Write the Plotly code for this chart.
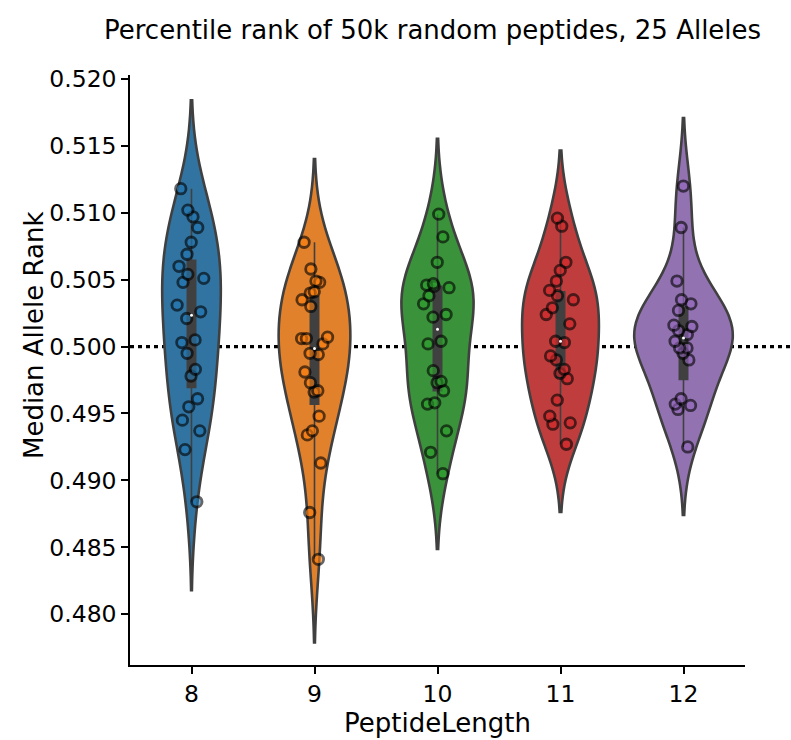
import numpy as np
import plotly.graph_objects as go

# Median allele percentile rank per allele for each peptide length
lengths = ["8", "9", "10", "11", "12"]

rank_len8 = [0.5118, 0.5102, 0.5097, 0.5089, 0.5078, 0.5069, 0.5060, 0.5054, 0.5051,
             0.5048, 0.5031, 0.5026, 0.5021, 0.5005, 0.5003, 0.4995, 0.4983, 0.4978,
             0.4961, 0.4955, 0.4945, 0.4937, 0.4923, 0.4884]
rank_len9 = [0.5078, 0.5058, 0.5049, 0.5048, 0.5041, 0.5040, 0.5035, 0.5030, 0.5007,
             0.5006, 0.5006, 0.5002, 0.4995, 0.4994, 0.4981, 0.4973, 0.4967, 0.4966,
             0.4948, 0.4937, 0.4934, 0.4913, 0.4876, 0.4841]
rank_len10 = [0.5099, 0.5082, 0.5063, 0.5047, 0.5046, 0.5045, 0.5044, 0.5038, 0.5032,
              0.5024, 0.5022, 0.5004, 0.5002, 0.4982, 0.4974, 0.4973, 0.4967, 0.4958,
              0.4957, 0.4937, 0.4921, 0.4905]
rank_len11 = [0.5096, 0.5090, 0.5063, 0.5057, 0.5049, 0.5042, 0.5038, 0.5035, 0.5029,
              0.5024, 0.5017, 0.5004, 0.5003, 0.4993, 0.4990, 0.4983, 0.4980, 0.4976,
              0.4960, 0.4948, 0.4943, 0.4942, 0.4927]
rank_len12 = [0.5120, 0.5089, 0.5049, 0.5035, 0.5032, 0.5027, 0.5016, 0.5015, 0.5012,
              0.5009, 0.5004, 0.4999, 0.4999, 0.4995, 0.4990, 0.4961, 0.4957, 0.4956,
              0.4953, 0.4925]

ranks = [rank_len8, rank_len9, rank_len10, rank_len11, rank_len12]

y_ticks = [0.480, 0.485, 0.490, 0.495, 0.500, 0.505, 0.510, 0.515, 0.520]
expected_rank = 0.5

violin_fill = ["#3274a1", "#e1812c", "#3a923a", "#c03d3e", "#9372b2"]
point_fill = ["#1f77b4", "#ff7f0e", "#2ca02c", "#d62728", "#9467bd"]
edge_gray = "#404040"
font_family = "DejaVu Sans, sans-serif"

fig = go.Figure()

for name, vals, fcol, pcol in zip(lengths, ranks, violin_fill, point_fill):
    arr = np.asarray(vals)
    # Scott's rule bandwidth, the usual default for the density estimate
    bw = arr.std(ddof=1) * len(arr) ** (-0.2)
    fig.add_trace(go.Violin(
        x=[name] * len(arr),
        y=arr,
        name=name,
        bandwidth=bw,
        spanmode="soft",
        # one shared density scale for all violins (equal areas)
        scalemode="width",
        scalegroup="lengths",
        fillcolor=fcol,
        opacity=1,
        line=dict(color=edge_gray, width=2.6),
        box=dict(visible=True, width=0.085, fillcolor=edge_gray,
                 line=dict(color=edge_gray, width=1.6)),
        meanline=dict(visible=False),
        points="all",
        pointpos=0,
        jitter=0.3,
        marker=dict(color=pcol, size=10.5, opacity=0.6,
                    line=dict(color="black", width=2.8)),
        hoverinfo="y",
        showlegend=False,
    ))

# white dot at each median, as drawn by the inner box
medians = [float(np.median(v)) for v in ranks]
fig.add_trace(go.Scatter(
    x=lengths, y=medians, mode="markers",
    marker=dict(color="white", size=3),
    hoverinfo="skip", showlegend=False,
))

# reference line at the expected median rank
fig.add_shape(type="line", xref="paper", yref="y",
              x0=0, x1=1.075, y0=expected_rank, y1=expected_rank,
              line=dict(color="black", width=3.2, dash="4px,4px"),
              layer="below")

# y-axis label
fig.add_annotation(text="Median Allele Rank", textangle=-90,
                   xref="paper", yref="paper", x=-0.157, y=0.56,
                   xanchor="center", yanchor="middle", showarrow=False,
                   font=dict(size=26, family=font_family, color="black"))

fig.update_layout(
    width=791, height=740,
    margin=dict(l=130, r=46, t=75, b=70),
    paper_bgcolor="white", plot_bgcolor="white",
    violinmode="overlay", violingap=0.2, violingroupgap=0,
    font=dict(family=font_family, color="black"),
    title=dict(text="Percentile rank of 50k random peptides, 25 Alleles",
               x=0.492, xref="paper", xanchor="center",
               y=1 - 30 / 740, yref="container", yanchor="middle",
               font=dict(size=26, family=font_family, color="black")),
)

fig.update_xaxes(
    type="category", categoryorder="array", categoryarray=lengths,
    range=[-0.5, 4.5],
    showline=True, linecolor="black", linewidth=1.5,
    ticks="outside", ticklen=7, tickwidth=1.5, tickcolor="black",
    tickfont=dict(size=23.5),
    showgrid=False, zeroline=False,
    title=dict(text="PeptideLength", font=dict(size=26), standoff=2),
)

fig.update_yaxes(
    range=[0.4762, 0.5203],
    tickvals=y_ticks, ticktext=[f"{t:.3f}" for t in y_ticks],
    showline=True, linecolor="black", linewidth=1.5,
    ticks="outside", ticklen=7, tickwidth=1.5, tickcolor="black",
    tickfont=dict(size=23.5),
    showgrid=False, zeroline=False,
)

fig.write_html("out.html")
